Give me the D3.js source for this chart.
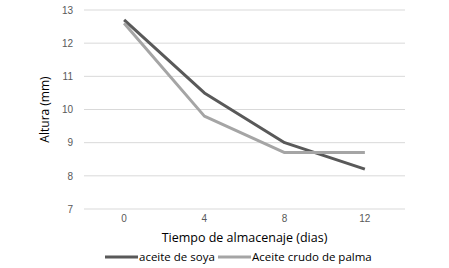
<!DOCTYPE html>
<html>
<head>
<meta charset="utf-8">
<script src="https://cdn.jsdelivr.net/npm/d3@7"></script>
<style>
body { margin: 0; background: #fff; }
svg { display: block; font-family: "Open Sans", "Liberation Sans", sans-serif; }
</style>
</head>
<body>
<script>
//width and height
var w = 449;
var h = 268;

//data
var dias = ["0", "4", "8", "12"];
var soya = [12.7, 10.5, 9.0, 8.2];
var palma = [12.6, 9.8, 8.7, 8.7];
var yTicks = [7, 8, 9, 10, 11, 12, 13];
var seriesNames = ["aceite de soya", "Aceite crudo de palma"];
var seriesColors = ["#595959", "#a5a5a5"];

var margin = {left: 84, right: 44, top: 10, bottom: 59};

var x = d3.scaleBand()
          .domain(dias)
          .range([margin.left, w - margin.right]);

var y = d3.scaleLinear()
          .domain([7, 13])
          .range([h - margin.bottom, margin.top]);

var svg = d3.select("body")
            .append("svg")
            .attr("width", w)
            .attr("height", h);

//gridlines
svg.selectAll("line.grid")
    .data(yTicks)
    .enter()
    .append("line")
    .attr("class", "grid")
    .attr("x1", margin.left)
    .attr("x2", w - margin.right)
    .attr("y1", function(d) { return y(d); })
    .attr("y2", function(d) { return y(d); })
    .style("stroke", "#d9d9d9")
    .style("stroke-width", 1);

//y axis
var yAxis = svg.append("g")
    .attr("transform", "translate(" + (margin.left - 8) + ",0)")
    .call(d3.axisLeft(y).tickValues(yTicks).tickFormat(d3.format("d")).tickSize(0).tickPadding(3));
yAxis.select(".domain").remove();
yAxis.selectAll("text")
    .style("font-size", "10px")
    .style("fill", "#595959");

//x axis
var xAxis = svg.append("g")
    .attr("transform", "translate(0," + (h - margin.bottom) + ")")
    .call(d3.axisBottom(x).tickSize(0).tickPadding(6));
xAxis.select(".domain").remove();
xAxis.selectAll("text")
    .style("font-size", "10px")
    .style("fill", "#595959");

//axis titles
svg.append("text")
    .attr("transform", "translate(49," + y(10) + ") rotate(-90)")
    .attr("text-anchor", "middle")
    .style("font-size", "12px")
    .style("fill", "#000")
    .text("Altura (mm)");

svg.append("text")
    .attr("x", (margin.left + w - margin.right) / 2)
    .attr("y", 242)
    .attr("text-anchor", "middle")
    .style("font-size", "12.5px")
    .style("fill", "#000")
    .text("Tiempo de almacenaje (dias)");

//lines
var line = d3.line()
    .x(function(d, i) { return x(dias[i]) + x.bandwidth() / 2; })
    .y(function(d) { return y(d); });

[soya, palma].forEach(function(s, k) {
    svg.append("path")
        .datum(s)
        .attr("d", line)
        .style("fill", "none")
        .style("stroke", seriesColors[k])
        .style("stroke-width", 3)
        .style("stroke-linejoin", "round");
});

//legend
var legendX = [105, 218];
seriesNames.forEach(function(name, k) {
    svg.append("line")
        .attr("x1", legendX[k])
        .attr("x2", legendX[k] + 33)
        .attr("y1", 257)
        .attr("y2", 257)
        .style("stroke", seriesColors[k])
        .style("stroke-width", 3);
    svg.append("text")
        .attr("x", legendX[k] + 34)
        .attr("y", 261)
        .style("font-size", "11.5px")
        .style("fill", "#000")
        .text(name);
});
</script>
</body>
</html>
